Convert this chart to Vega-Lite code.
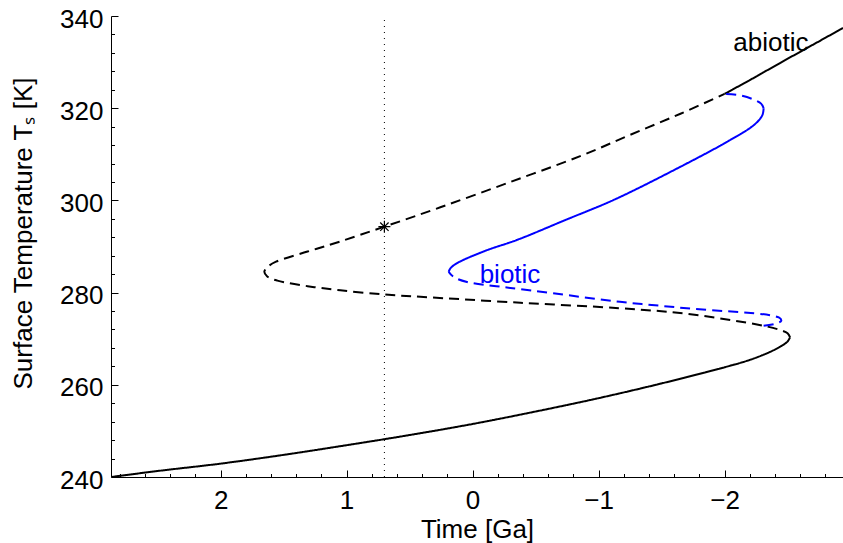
{
  "$schema": "https://vega.github.io/schema/vega-lite/v6.json",
  "width": 732,
  "height": 461,
  "autosize": {"type": "none"},
  "padding": {"left": 111, "top": 16, "right": 0, "bottom": 66},
  "config": {
    "view": {"stroke": null},
    "font": "Liberation Sans",
    "axis": {"grid": false, "labelColor": "black", "titleColor": "black", "tickColor": "black", "domainColor": "black", "titleFontWeight": "normal", "labelFontSize": 26, "titleFontSize": 26}
  },
  "datasets": {
    "curves": [
      {"seg": "a1", "curve": "abiotic", "style": "solid", "i": 1, "t": 2.868, "T": 240.0},
      {"seg": "a1", "curve": "abiotic", "style": "solid", "i": 2, "t": 2.5, "T": 241.3},
      {"seg": "a1", "curve": "abiotic", "style": "solid", "i": 3, "t": 2.0, "T": 242.9},
      {"seg": "a1", "curve": "abiotic", "style": "solid", "i": 4, "t": 1.5, "T": 244.8},
      {"seg": "a1", "curve": "abiotic", "style": "solid", "i": 5, "t": 1.0, "T": 246.9},
      {"seg": "a1", "curve": "abiotic", "style": "solid", "i": 6, "t": 0.5, "T": 249.1},
      {"seg": "a1", "curve": "abiotic", "style": "solid", "i": 7, "t": 0.0, "T": 251.5},
      {"seg": "a1", "curve": "abiotic", "style": "solid", "i": 8, "t": -0.5, "T": 254.2},
      {"seg": "a1", "curve": "abiotic", "style": "solid", "i": 9, "t": -1.0, "T": 257.1},
      {"seg": "a1", "curve": "abiotic", "style": "solid", "i": 10, "t": -1.5, "T": 260.3},
      {"seg": "a1", "curve": "abiotic", "style": "solid", "i": 11, "t": -2.0, "T": 263.8},
      {"seg": "a1", "curve": "abiotic", "style": "solid", "i": 12, "t": -2.2, "T": 265.4},
      {"seg": "a1", "curve": "abiotic", "style": "solid", "i": 13, "t": -2.35, "T": 267.0},
      {"seg": "a1", "curve": "abiotic", "style": "solid", "i": 14, "t": -2.45, "T": 268.4},
      {"seg": "a1", "curve": "abiotic", "style": "solid", "i": 15, "t": -2.5, "T": 269.4},
      {"seg": "a1", "curve": "abiotic", "style": "solid", "i": 16, "t": -2.52, "T": 270.3},
      {"seg": "a2", "curve": "abiotic", "style": "dashed", "i": 1, "t": -2.52, "T": 270.3},
      {"seg": "a2", "curve": "abiotic", "style": "dashed", "i": 2, "t": -2.5, "T": 271.2},
      {"seg": "a2", "curve": "abiotic", "style": "dashed", "i": 3, "t": -2.44, "T": 271.9},
      {"seg": "a2", "curve": "abiotic", "style": "dashed", "i": 4, "t": -2.31, "T": 272.8},
      {"seg": "a2", "curve": "abiotic", "style": "dashed", "i": 5, "t": -1.7, "T": 275.4},
      {"seg": "a2", "curve": "abiotic", "style": "dashed", "i": 6, "t": -1.17, "T": 276.6},
      {"seg": "a2", "curve": "abiotic", "style": "dashed", "i": 7, "t": -0.38, "T": 277.8},
      {"seg": "a2", "curve": "abiotic", "style": "dashed", "i": 8, "t": 0.415, "T": 279.1},
      {"seg": "a2", "curve": "abiotic", "style": "dashed", "i": 9, "t": 0.706, "T": 279.6},
      {"seg": "a2", "curve": "abiotic", "style": "dashed", "i": 10, "t": 1.05, "T": 280.5},
      {"seg": "a2", "curve": "abiotic", "style": "dashed", "i": 11, "t": 1.31, "T": 281.4},
      {"seg": "a2", "curve": "abiotic", "style": "dashed", "i": 12, "t": 1.55, "T": 282.6},
      {"seg": "a2", "curve": "abiotic", "style": "dashed", "i": 13, "t": 1.63, "T": 283.5},
      {"seg": "a2", "curve": "abiotic", "style": "dashed", "i": 14, "t": 1.653, "T": 284.5},
      {"seg": "a2", "curve": "abiotic", "style": "dashed", "i": 15, "t": 1.63, "T": 285.5},
      {"seg": "a2", "curve": "abiotic", "style": "dashed", "i": 16, "t": 1.56, "T": 286.7},
      {"seg": "a2", "curve": "abiotic", "style": "dashed", "i": 17, "t": 1.31, "T": 288.9},
      {"seg": "a2", "curve": "abiotic", "style": "dashed", "i": 18, "t": 1.05, "T": 291.1},
      {"seg": "a2", "curve": "abiotic", "style": "dashed", "i": 19, "t": 0.7, "T": 294.3},
      {"seg": "a2", "curve": "abiotic", "style": "dashed", "i": 20, "t": 0.256, "T": 298.5},
      {"seg": "a2", "curve": "abiotic", "style": "dashed", "i": 21, "t": -0.3, "T": 304.0},
      {"seg": "a2", "curve": "abiotic", "style": "dashed", "i": 22, "t": -0.854, "T": 309.6},
      {"seg": "a2", "curve": "abiotic", "style": "dashed", "i": 23, "t": -1.25, "T": 314.2},
      {"seg": "a2", "curve": "abiotic", "style": "dashed", "i": 24, "t": -1.65, "T": 318.8},
      {"seg": "a2", "curve": "abiotic", "style": "dashed", "i": 25, "t": -2.0, "T": 323.1},
      {"seg": "a3", "curve": "abiotic", "style": "solid", "i": 1, "t": -2.0, "T": 323.1},
      {"seg": "a3", "curve": "abiotic", "style": "solid", "i": 2, "t": -2.22, "T": 326.4},
      {"seg": "a3", "curve": "abiotic", "style": "solid", "i": 3, "t": -2.44, "T": 329.8},
      {"seg": "a3", "curve": "abiotic", "style": "solid", "i": 4, "t": -2.71, "T": 333.9},
      {"seg": "a3", "curve": "abiotic", "style": "solid", "i": 5, "t": -2.94, "T": 337.4},
      {"seg": "b1", "curve": "biotic", "style": "dashed", "i": 1, "t": -2.31, "T": 272.8},
      {"seg": "b1", "curve": "biotic", "style": "dashed", "i": 2, "t": -2.41, "T": 273.3},
      {"seg": "b1", "curve": "biotic", "style": "dashed", "i": 3, "t": -2.45, "T": 273.9},
      {"seg": "b1", "curve": "biotic", "style": "dashed", "i": 4, "t": -2.43, "T": 274.6},
      {"seg": "b1", "curve": "biotic", "style": "dashed", "i": 5, "t": -1.7, "T": 276.6},
      {"seg": "b1", "curve": "biotic", "style": "dashed", "i": 6, "t": -1.17, "T": 278.0},
      {"seg": "b1", "curve": "biotic", "style": "dashed", "i": 7, "t": -0.64, "T": 279.85},
      {"seg": "b1", "curve": "biotic", "style": "dashed", "i": 8, "t": -0.246, "T": 281.2},
      {"seg": "b1", "curve": "biotic", "style": "dashed", "i": 9, "t": 0.044, "T": 282.3},
      {"seg": "b1", "curve": "biotic", "style": "dashed", "i": 10, "t": 0.15, "T": 283.4},
      {"seg": "b1", "curve": "biotic", "style": "dashed", "i": 11, "t": 0.19, "T": 284.5},
      {"seg": "b2", "curve": "biotic", "style": "solid", "i": 1, "t": 0.19, "T": 284.5},
      {"seg": "b2", "curve": "biotic", "style": "solid", "i": 2, "t": 0.175, "T": 285.3},
      {"seg": "b2", "curve": "biotic", "style": "solid", "i": 3, "t": 0.14, "T": 286.1},
      {"seg": "b2", "curve": "biotic", "style": "solid", "i": 4, "t": 0.08, "T": 287.0},
      {"seg": "b2", "curve": "biotic", "style": "solid", "i": 5, "t": -0.114, "T": 289.2},
      {"seg": "b2", "curve": "biotic", "style": "solid", "i": 6, "t": -0.35, "T": 291.4},
      {"seg": "b2", "curve": "biotic", "style": "solid", "i": 7, "t": -0.75, "T": 295.9},
      {"seg": "b2", "curve": "biotic", "style": "solid", "i": 8, "t": -1.12, "T": 300.1},
      {"seg": "b2", "curve": "biotic", "style": "solid", "i": 9, "t": -1.65, "T": 307.3},
      {"seg": "b2", "curve": "biotic", "style": "solid", "i": 10, "t": -2.045, "T": 313.1},
      {"seg": "b2", "curve": "biotic", "style": "solid", "i": 11, "t": -2.24, "T": 316.5},
      {"seg": "b2", "curve": "biotic", "style": "solid", "i": 12, "t": -2.3, "T": 318.5},
      {"seg": "b2", "curve": "biotic", "style": "solid", "i": 13, "t": -2.31, "T": 320.0},
      {"seg": "b3", "curve": "biotic", "style": "dashed", "i": 1, "t": -2.31, "T": 320.0},
      {"seg": "b3", "curve": "biotic", "style": "dashed", "i": 2, "t": -2.29, "T": 321.0},
      {"seg": "b3", "curve": "biotic", "style": "dashed", "i": 3, "t": -2.22, "T": 322.0},
      {"seg": "b3", "curve": "biotic", "style": "dashed", "i": 4, "t": -2.12, "T": 322.8},
      {"seg": "b3", "curve": "biotic", "style": "dashed", "i": 5, "t": -2.0, "T": 323.1}
    ],
    "labels": [
      {"curve": "abiotic", "t": -2.069, "T": 332.5, "text": "abiotic"},
      {"curve": "biotic", "t": -0.056, "T": 282.0, "text": "biotic"}
    ],
    "vline": [{"t": 0.7, "T1": 240, "T2": 340}],
    "star": [{"t": 0.7, "T": 294.3}]
  },
  "layer": [
    {
      "data": {"name": "curves"},
      "mark": {"type": "line", "strokeWidth": 2, "clip": true, "interpolate": "catmull-rom"},
      "encoding": {
        "x": {"field": "t", "type": "quantitative", "scale": {"domain": [2.87, -2.94], "nice": false, "zero": false},
          "axis": {"orient": "bottom", "values": [2, 1, 0, -1, -2], "ticks": false, "labelPadding": 10, "domain": true, "domainWidth": 1, "title": "Time [Ga]", "titleBaseline": "alphabetic", "titleY": 60, "labelFlush": false}},
        "y": {"field": "T", "type": "quantitative", "scale": {"domain": [240, 340], "nice": false, "zero": false},
          "axis": {"orient": "left", "values": [240, 260, 280, 300, 320, 340], "ticks": false, "labelPadding": 8, "labelOffset": 3, "domain": true, "domainWidth": 1, "title": "Surface Temperature Tₛ [K]", "titleBaseline": "alphabetic", "titleAngle": -90, "titleX": -80, "titleY": 217, "titleAlign": "center"}},
        "color": {"field": "curve", "type": "nominal", "scale": {"domain": ["abiotic", "biotic"], "range": ["#000000", "#0000ff"]}, "legend": null},
        "strokeDash": {"field": "style", "type": "nominal", "scale": {"domain": ["solid", "dashed"], "range": [[1, 0], [10, 6]]}, "legend": null},
        "detail": {"field": "seg"},
        "order": {"field": "i", "type": "quantitative"}
      }
    },
    {
      "data": {"name": "vline"},
      "mark": {"type": "rule", "color": "#000000", "strokeWidth": 1, "strokeDash": [1, 5]},
      "encoding": {
        "x": {"field": "t", "type": "quantitative", "scale": {"domain": [2.87, -2.94], "nice": false, "zero": false},
          "axis": {"orient": "bottom", "values": [2, 1, 0, -1, -2], "tickSize": -7, "tickWidth": 1, "labels": false, "domain": false, "title": null}},
        "y": {"field": "T1", "type": "quantitative", "scale": {"domain": [240, 340], "nice": false, "zero": false},
          "axis": {"orient": "left", "values": [240, 260, 280, 300, 320, 340], "tickSize": -7, "tickWidth": 1, "labels": false, "domain": false, "title": null}},
        "y2": {"field": "T2"}
      }
    },
    {
      "data": {"name": "star"},
      "mark": {"type": "point", "shape": "M-1,0L1,0M0,-1L0,1M-0.7,-0.7L0.7,0.7M-0.7,0.7L0.7,-0.7", "filled": false, "color": "#000000", "strokeWidth": 1.2, "size": 144, "opacity": 1},
      "encoding": {
        "x": {"field": "t", "type": "quantitative", "scale": {"domain": [2.87, -2.94], "nice": false, "zero": false},
          "axis": {"orient": "bottom", "values": [2.8, 2.6, 2.4, 2.2, 1.8, 1.6, 1.4, 1.2, 0.8, 0.6, 0.4, 0.2, -0.2, -0.4, -0.6, -0.8, -1.2, -1.4, -1.6, -1.8, -2.2, -2.4, -2.6, -2.8], "tickSize": -3.5, "tickWidth": 1, "labels": false, "domain": false, "title": null}},
        "y": {"field": "T", "type": "quantitative", "scale": {"domain": [240, 340], "nice": false, "zero": false},
          "axis": {"orient": "left", "values": [244, 248, 252, 256, 264, 268, 272, 276, 284, 288, 292, 296, 304, 308, 312, 316, 324, 328, 332, 336], "tickSize": -3.5, "tickWidth": 1, "labels": false, "domain": false, "title": null}}
      }
    },
    {
      "data": {"name": "labels"},
      "mark": {"type": "text", "align": "left", "baseline": "alphabetic", "fontSize": 26},
      "encoding": {
        "x": {"field": "t", "type": "quantitative", "axis": null},
        "y": {"field": "T", "type": "quantitative", "axis": null},
        "text": {"field": "text"},
        "color": {"field": "curve", "type": "nominal", "scale": {"domain": ["abiotic", "biotic"], "range": ["#000000", "#0000ff"]}, "legend": null}
      }
    }
  ],
  "resolve": {"axis": {"x": "independent", "y": "independent"}}
}
